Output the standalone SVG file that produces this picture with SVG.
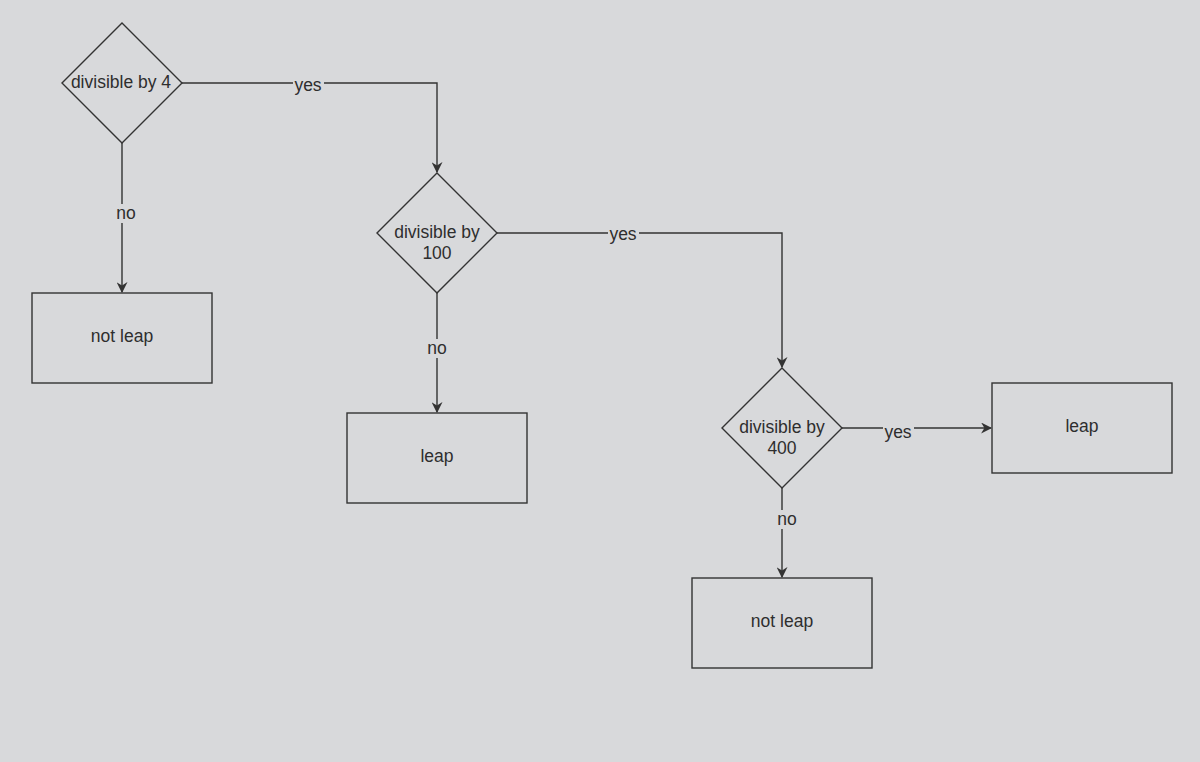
<svg xmlns="http://www.w3.org/2000/svg" width="1200" height="762" viewBox="0 0 1200 762">
<defs>
<style>
.n{fill:#d8d9db;stroke:#333;stroke-width:1.4}
.t{font-family:"Liberation Sans",Arial,sans-serif;font-size:17.5px;fill:#2e2e2e;text-anchor:middle}
.e{fill:none;stroke:#333;stroke-width:1.4}
.lb{fill:#d8d9db}
</style>
<marker id="a" viewBox="0 0 10 10" refX="9" refY="5" markerWidth="11" markerHeight="11" markerUnits="userSpaceOnUse" orient="auto">
<path d="M0,0 L10,5 L0,10 L3,5 Z" fill="#333"/>
</marker>
</defs>
<rect width="1200" height="762" fill="#d8d9db"/>
<g id="connectors">
<path class="e" d="M182,83 H437 V172" marker-end="url(#a)"/>
<path class="e" d="M122,143 V292" marker-end="url(#a)"/>
<path class="e" d="M497,233 H782 V367" marker-end="url(#a)"/>
<path class="e" d="M437,293 V412" marker-end="url(#a)"/>
<path class="e" d="M842,428 H991" marker-end="url(#a)"/>
<path class="e" d="M782,488 V577" marker-end="url(#a)"/>
<rect class="lb" x="293" y="75" width="31" height="19"/>
<text class="t" x="308" y="91">yes</text>
<rect class="lb" x="114" y="204" width="25" height="19"/>
<text class="t" x="126" y="219">no</text>
<rect class="lb" x="608" y="225" width="31" height="19"/>
<text class="t" x="623" y="240">yes</text>
<rect class="lb" x="425" y="339" width="25" height="19"/>
<text class="t" x="437" y="354">no</text>
<rect class="lb" x="883" y="423" width="31" height="19"/>
<text class="t" x="898" y="438">yes</text>
<rect class="lb" x="775" y="510" width="25" height="19"/>
<text class="t" x="787" y="525">no</text>
</g>
<g id="d1">
<polygon class="n" points="122,23 182,83 122,143 62,83"/>
<text class="t" x="121" y="88">divisible by 4</text>
</g>
<g id="d2">
<polygon class="n" points="437,173 497,233 437,293 377,233"/>
<text class="t" x="437" y="238">divisible by</text>
<text class="t" x="437" y="259">100</text>
</g>
<g id="d3">
<polygon class="n" points="782,368 842,428 782,488 722,428"/>
<text class="t" x="782" y="433">divisible by</text>
<text class="t" x="782" y="454">400</text>
</g>
<g id="r1">
<rect class="n" x="32" y="293" width="180" height="90"/>
<text class="t" x="122" y="342">not leap</text>
</g>
<g id="r2">
<rect class="n" x="347" y="413" width="180" height="90"/>
<text class="t" x="437" y="462">leap</text>
</g>
<g id="r3">
<rect class="n" x="992" y="383" width="180" height="90"/>
<text class="t" x="1082" y="432">leap</text>
</g>
<g id="r4">
<rect class="n" x="692" y="578" width="180" height="90"/>
<text class="t" x="782" y="627">not leap</text>
</g>
</svg>
